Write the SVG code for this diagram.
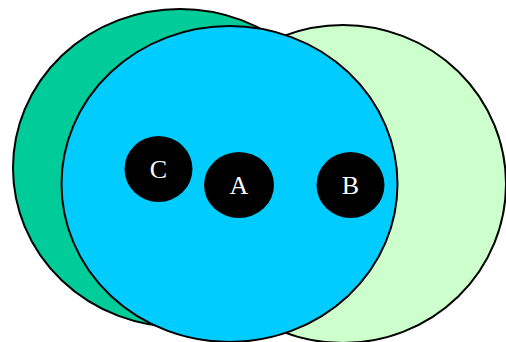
<svg xmlns="http://www.w3.org/2000/svg" width="506" height="342" viewBox="0 0 506 342">
<style>
.set{stroke:#000;stroke-width:2}
.el{fill:#000;stroke:none}
.lb{font-family:"Liberation Serif","Times New Roman",serif;font-size:26px;fill:#fff;text-anchor:middle}
</style>
<rect width="506" height="342" fill="#fff"/>
<g id="set-green"><ellipse class="set" cx="180" cy="168" rx="167" ry="159" fill="#00CC99"/></g>
<g id="set-lightgreen"><ellipse class="set" cx="343" cy="184" rx="163" ry="159" fill="#CCFFCC"/></g>
<g id="set-blue"><ellipse class="set" cx="229.5" cy="184" rx="168" ry="158" fill="#00CCFF"/></g>
<g id="node-C"><ellipse class="el" cx="158.5" cy="169" rx="34" ry="33"/><text class="lb" x="158.5" y="178">C</text></g>
<g id="node-A"><ellipse class="el" cx="239" cy="185" rx="35" ry="33"/><text class="lb" x="239" y="194">A</text></g>
<g id="node-B"><ellipse class="el" cx="350.5" cy="185" rx="34" ry="33"/><text class="lb" x="350.5" y="194">B</text></g>
<g id="connectors"></g>
</svg>
